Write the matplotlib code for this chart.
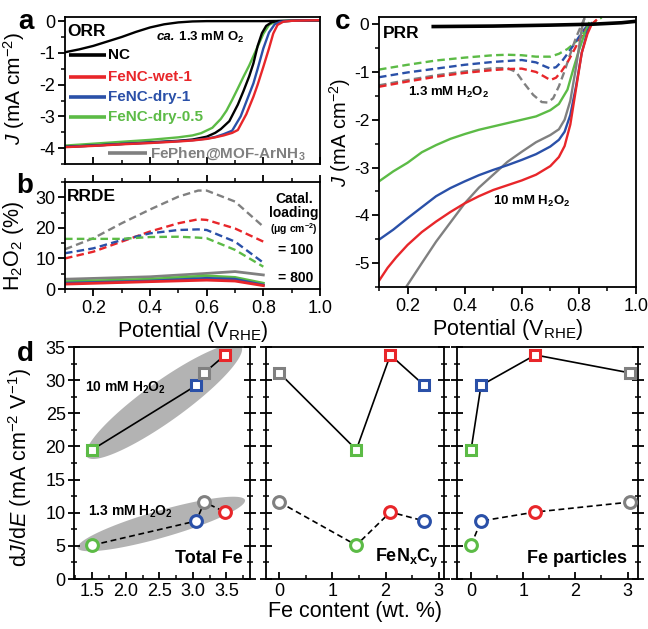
import numpy as np
import matplotlib
matplotlib.use("Agg")
import matplotlib.pyplot as plt
from matplotlib.patches import Polygon
from matplotlib.ticker import MultipleLocator

plt.rcParams['font.family'] = ['Liberation Sans', 'DejaVu Sans']
plt.rcParams['mathtext.fontset'] = 'custom'
plt.rcParams['mathtext.rm'] = 'Liberation Sans'
plt.rcParams['mathtext.it'] = 'Liberation Sans:italic'
plt.rcParams['mathtext.bf'] = 'Liberation Sans:bold'
plt.rcParams['mathtext.default'] = 'regular'
plt.rcParams['axes.unicode_minus'] = False
plt.rcParams['axes.linewidth'] = 1.3

RED = '#e8262a'
BLUE = '#2a50a8'
GREEN = '#5cbb46'
GRAY = '#808080'
BLACK = '#000000'

# ---------------- panel a: ORR ----------------
orr_nc_v = [0.1, 0.15, 0.2, 0.25, 0.3, 0.35, 0.4, 0.45, 0.5, 0.55, 0.6, 0.7, 0.8, 0.9, 1.0]
orr_nc_j = [-0.98, -0.89, -0.78, -0.64, -0.5, -0.34, -0.2, -0.1, -0.04, -0.01, 0.0, 0.0, 0.0, 0.01, 0.02]
orr_fephen_v = [0.1, 0.2, 0.3, 0.4, 0.5, 0.55, 0.6, 0.63, 0.65, 0.68, 0.71, 0.73, 0.75, 0.765, 0.78, 0.795, 0.81, 0.83, 0.85, 0.9, 1.0]
orr_fephen_j = [-3.96, -3.92, -3.87, -3.82, -3.77, -3.73, -3.64, -3.52, -3.40, -3.15, -2.63, -2.2, -1.74, -1.33, -0.78, -0.38, -0.15, -0.03, 0.0, 0.01, 0.03]
orr_wet1_v = [0.1, 0.2, 0.3, 0.4, 0.5, 0.55, 0.6, 0.63, 0.66, 0.69, 0.71, 0.74, 0.765, 0.78, 0.8, 0.82, 0.835, 0.85, 0.87, 0.9, 1.0]
orr_wet1_j = [-3.97, -3.93, -3.88, -3.84, -3.79, -3.76, -3.71, -3.66, -3.6, -3.52, -3.43, -2.93, -2.38, -2.0, -1.44, -0.86, -0.39, -0.12, -0.02, 0.01, 0.03]
orr_dry1_v = [0.1, 0.2, 0.3, 0.4, 0.5, 0.55, 0.6, 0.63, 0.66, 0.69, 0.72, 0.745, 0.765, 0.78, 0.8, 0.82, 0.84, 0.86, 0.88, 0.9, 1.0]
orr_dry1_j = [-3.96, -3.92, -3.87, -3.83, -3.78, -3.75, -3.70, -3.65, -3.56, -3.45, -3.0, -2.42, -1.96, -1.5, -0.86, -0.36, -0.1, -0.02, 0.0, 0.01, 0.03]
orr_dry05_v = [0.1, 0.2, 0.3, 0.4, 0.5, 0.55, 0.58, 0.62, 0.65, 0.67, 0.69, 0.71, 0.73, 0.75, 0.78, 0.8, 0.82, 0.84, 0.86, 0.9, 1.0]
orr_dry05_j = [-3.92, -3.86, -3.80, -3.74, -3.66, -3.60, -3.53, -3.36, -3.08, -2.82, -2.48, -2.12, -1.75, -1.4, -0.8, -0.4, -0.12, -0.03, 0.0, 0.01, 0.03]
legend_names = ['NC', 'FeNC-wet-1', 'FeNC-dry-1', 'FeNC-dry-0.5', 'FePhen@MOF-ArNH$_3$']

# ---------------- panel b: RRDE ----------------
rrde_v = [0.1, 0.2, 0.3, 0.4, 0.5, 0.57, 0.6, 0.7, 0.8]
h2o2_100_fephen = [13.0, 16.6, 21.5, 26.0, 30.2, 32.2, 32.2, 28.6, 20.4]
h2o2_100_wet1 = [10.0, 12.2, 15.5, 18.8, 21.5, 22.8, 22.6, 19.8, 15.5]
h2o2_100_dry1 = [11.7, 13.3, 16.0, 18.2, 19.3, 19.5, 19.3, 15.5, 8.6]
h2o2_100_dry05 = [16.4, 16.4, 16.4, 17.0, 17.1, 16.8, 16.6, 12.8, 7.3]
rrde_v800 = [0.1, 0.4, 0.6, 0.7, 0.8]
h2o2_800_fephen = [3.2, 4.0, 5.1, 5.7, 4.6]
h2o2_800_dry05 = [2.4, 3.2, 4.3, 3.8, 1.9]
h2o2_800_dry1 = [1.9, 2.6, 3.5, 3.2, 1.3]
h2o2_800_wet1 = [1.6, 2.4, 2.9, 2.6, 1.1]

# ---------------- panel c: PRR ----------------
prr_nc_v = [0.29, 0.5, 0.7, 0.85, 0.95, 1.0]
prr_nc_j = [-0.05, -0.04, -0.02, 0.0, 0.03, 0.06]
prr10_fephen_v = [0.195, 0.25, 0.3, 0.35, 0.4, 0.45, 0.5, 0.55, 0.6, 0.65, 0.7, 0.73, 0.75, 0.77, 0.79, 0.8, 0.81, 0.82]
prr10_fephen_j = [-5.5, -5.0, -4.55, -4.15, -3.75, -3.42, -3.15, -2.88, -2.67, -2.47, -2.32, -2.2, -2.0, -1.6, -0.9, -0.5, -0.1, 0.15]
prr10_wet1_v = [0.1, 0.13, 0.16, 0.2, 0.25, 0.3, 0.35, 0.4, 0.45, 0.5, 0.55, 0.6, 0.65, 0.7, 0.73, 0.75, 0.77, 0.79, 0.81, 0.83, 0.845, 0.86]
prr10_wet1_j = [-5.37, -5.1, -4.88, -4.62, -4.35, -4.13, -3.93, -3.75, -3.6, -3.47, -3.37, -3.27, -3.15, -2.97, -2.78, -2.55, -2.1, -1.35, -0.6, -0.2, 0.0, 0.08]
prr10_dry1_v = [0.1, 0.15, 0.2, 0.25, 0.3, 0.35, 0.4, 0.45, 0.5, 0.55, 0.6, 0.65, 0.7, 0.73, 0.75, 0.77, 0.79, 0.81, 0.83, 0.845]
prr10_dry1_j = [-4.51, -4.3, -4.06, -3.83, -3.6, -3.43, -3.29, -3.16, -3.05, -2.95, -2.84, -2.72, -2.56, -2.42, -2.25, -1.9, -1.3, -0.6, -0.15, 0.02]
prr10_dry05_v = [0.1, 0.15, 0.2, 0.25, 0.3, 0.35, 0.4, 0.45, 0.5, 0.55, 0.6, 0.65, 0.7, 0.73, 0.76, 0.78, 0.8, 0.82, 0.835]
prr10_dry05_j = [-3.29, -3.08, -2.9, -2.68, -2.53, -2.4, -2.3, -2.21, -2.14, -2.07, -2.0, -1.93, -1.8, -1.67, -1.37, -0.95, -0.55, -0.2, 0.02]
prr13_fephen_v = [0.1, 0.2, 0.3, 0.4, 0.5, 0.55, 0.58, 0.61, 0.64, 0.67, 0.69, 0.71, 0.73, 0.75, 0.77, 0.79, 0.81, 0.82]
prr13_fephen_j = [-1.28, -1.17, -1.07, -0.99, -0.92, -0.92, -1.0, -1.25, -1.48, -1.63, -1.64, -1.55, -1.3, -0.98, -0.62, -0.28, 0.0, 0.12]
prr13_wet1_v = [0.1, 0.2, 0.3, 0.4, 0.5, 0.55, 0.6, 0.65, 0.68, 0.7, 0.72, 0.74, 0.76, 0.78, 0.8, 0.82, 0.845]
prr13_wet1_j = [-1.31, -1.2, -1.1, -1.02, -0.96, -0.94, -0.93, -1.0, -1.1, -1.17, -1.12, -0.98, -0.8, -0.58, -0.35, -0.14, 0.02]
prr13_dry1_v = [0.1, 0.2, 0.3, 0.4, 0.5, 0.55, 0.6, 0.65, 0.68, 0.7, 0.72, 0.74, 0.76, 0.78, 0.8, 0.82, 0.84]
prr13_dry1_j = [-1.11, -1.01, -0.93, -0.85, -0.79, -0.77, -0.75, -0.8, -0.88, -0.93, -0.9, -0.78, -0.62, -0.45, -0.27, -0.1, 0.03]
prr13_dry05_v = [0.1, 0.2, 0.3, 0.4, 0.5, 0.55, 0.6, 0.65, 0.7, 0.73, 0.76, 0.78, 0.8, 0.82, 0.84, 0.86, 0.88]
prr13_dry05_j = [-0.95, -0.85, -0.76, -0.7, -0.65, -0.64, -0.65, -0.68, -0.68, -0.62, -0.52, -0.42, -0.3, -0.15, -0.03, 0.07, 0.14]

# ---------------- panel d: correlations ----------------
# order: FeNC-dry-0.5 (green), FeNC-dry-1 (blue), FePhen (gray), FeNC-wet-1 (red)
d_colors = [GREEN, BLUE, GRAY, RED]
fe_total = [1.5, 3.05, 3.17, 3.48]
fe_fenxcy = [1.45, 2.73, 0.0, 2.09]
fe_particles = [0.0, 0.19, 3.04, 1.23]
slope_10mM = [19.5, 29.2, 31.1, 33.8]
slope_13mM = [5.1, 8.75, 11.6, 10.1]

W, H = 648, 629
fig = plt.figure(figsize=(W / 100, H / 100), dpi=100)


def box(l, r, t, b):
    return [l / W, 1 - b / H, (r - l) / W, (b - t) / H]


def ftxt(x, y, s, **kw):
    fig.text(x / W, 1 - y / H, s, **kw)


TL = 13
def style(ax, xdir='out', ydir='out'):
    ax.tick_params(axis='x', which='major', direction=xdir, length=5, width=1.3, labelsize=TL, pad=3)
    ax.tick_params(axis='x', which='minor', direction=xdir, length=3, width=1.1)
    ax.tick_params(axis='y', which='major', direction=ydir, length=5, width=1.3, labelsize=TL, pad=2)
    ax.tick_params(axis='y', which='minor', direction=ydir, length=3, width=1.1)


LW = 1.7
# ---- a ----
axa = fig.add_axes(box(65, 320, 17, 164))
axa.plot(orr_nc_v, orr_nc_j, color=BLACK, lw=LW)
axa.plot(orr_dry05_v, orr_dry05_j, color=GREEN, lw=LW)
axa.plot(orr_fephen_v, orr_fephen_j, color=BLACK, lw=LW)
axa.plot(orr_dry1_v, orr_dry1_j, color=BLUE, lw=LW)
axa.plot(orr_wet1_v, orr_wet1_j, color=RED, lw=LW)
axa.set_xlim(0.1, 1.0)
axa.set_ylim(-4.5, 0.13)
axa.xaxis.set_major_locator(MultipleLocator(0.2))
axa.xaxis.set_minor_locator(MultipleLocator(0.1))
axa.yaxis.set_minor_locator(MultipleLocator(0.5))
axa.set_yticks([0, -1, -2, -3, -4])
axa.set_yticklabels(['0', '-1', '-2', '-3', '-4'])
style(axa, xdir='in')
axa.tick_params(axis='x', labelbottom=False)
axa.text(0.108, -0.32, 'ORR', fontsize=12.5, fontweight='bold', va='center')
t1 = axa.text(0.425, -0.5, 'ca.', fontsize=9.5, fontweight='bold', style='italic', va='center')
axa.annotate(' 1.3 mM O$_2$', xy=(1, 0.5), xycoords=t1, va='center', ha='left', fontsize=9.5, fontweight='bold')
leg_cols = [BLACK, RED, BLUE, GREEN]
leg_y = [-1.07, -1.76, -2.39, -3.02]
for name, c, yy in zip(legend_names[:4], leg_cols, leg_y):
    axa.plot([0.115, 0.245], [yy, yy], color=c, lw=2.6, solid_capstyle='butt')
    axa.text(0.252, yy, name, color=c, fontsize=11, fontweight='bold', va='center')
axa.plot([0.252, 0.39], [-4.16, -4.16], color=GRAY, lw=2.6, solid_capstyle='butt')
axa.text(0.40, -4.16, legend_names[4], color=GRAY, fontsize=11, fontweight='bold', va='center')

# ---- b ----
axb = fig.add_axes(box(65, 320, 182, 289))
dsh = (3.2, 1.8)
for ys, c in [(h2o2_100_fephen, GRAY), (h2o2_100_wet1, RED), (h2o2_100_dry1, BLUE), (h2o2_100_dry05, GREEN)]:
    axb.plot(rrde_v, ys, color=c, lw=LW, ls=(0, dsh))
for ys, c in [(h2o2_800_fephen, GRAY), (h2o2_800_dry05, GREEN), (h2o2_800_dry1, BLUE), (h2o2_800_wet1, RED)]:
    axb.plot(rrde_v800, ys, color=c, lw=2.0)
axb.set_xlim(0.1, 1.0)
axb.set_ylim(0, 35)
axb.xaxis.set_major_locator(MultipleLocator(0.2))
axb.xaxis.set_minor_locator(MultipleLocator(0.1))
axb.yaxis.set_major_locator(MultipleLocator(10))
axb.yaxis.set_minor_locator(MultipleLocator(5))
style(axb)
axb.tick_params(axis='x', which='both', top=True)
axb.text(0.108, 30.3, 'RRDE', fontsize=12.5, fontweight='bold', va='center')
axb.text(0.908, 29.3, 'Catal.', fontsize=10, fontweight='bold', ha='center', va='center')
axb.text(0.908, 24.8, 'loading', fontsize=10, fontweight='bold', ha='center', va='center')
axb.text(0.908, 19.6, '(\u03bcg cm$^{-2}$)', fontsize=7.5, fontweight='bold', ha='center', va='center')
axb.text(0.915, 12.7, '= 100', fontsize=10, fontweight='bold', ha='center', va='center')
axb.text(0.915, 3.6, '= 800', fontsize=10, fontweight='bold', ha='center', va='center')
axb.set_xlabel('Potential (V$_{\\mathrm{RHE}}$)', fontsize=15.5, labelpad=1)

# ---- c ----
axc = fig.add_axes(box(379, 636, 17, 287))
for vv, jj, c in [(prr13_dry05_v, prr13_dry05_j, GREEN), (prr13_dry1_v, prr13_dry1_j, BLUE),
                  (prr13_fephen_v, prr13_fephen_j, GRAY), (prr13_wet1_v, prr13_wet1_j, RED)]:
    axc.plot(vv, jj, color=c, lw=LW, ls=(0, dsh))
for vv, jj, c in [(prr10_dry05_v, prr10_dry05_j, GREEN), (prr10_fephen_v, prr10_fephen_j, GRAY),
                  (prr10_dry1_v, prr10_dry1_j, BLUE), (prr10_wet1_v, prr10_wet1_j, RED)]:
    axc.plot(vv, jj, color=c, lw=LW)
axc.plot(prr_nc_v, prr_nc_j, color=BLACK, lw=2.6)
axc.set_xlim(0.1, 1.0)
axc.set_ylim(-5.5, 0.15)
axc.xaxis.set_major_locator(MultipleLocator(0.2))
axc.xaxis.set_minor_locator(MultipleLocator(0.1))
axc.set_yticks([0, -1, -2, -3, -4, -5])
axc.set_yticklabels(['0', '-1', '-2', '-3', '-4', '-5'])
axc.yaxis.set_minor_locator(MultipleLocator(0.5))
style(axc)
axc.tick_params(axis='y', which='major', labelsize=12.5)
axc.text(0.114, -0.19, 'PRR', fontsize=12.5, fontweight='bold', va='center')
axc.text(0.2, -1.42, '1.3 mM H$_2$O$_2$', fontsize=9.5, fontweight='bold', va='center')
axc.text(0.5, -3.72, '10 mM H$_2$O$_2$', fontsize=9.5, fontweight='bold', va='center')
axc.set_xlabel('Potential (V$_{\\mathrm{RHE}}$)', fontsize=15.5, labelpad=1)

ylab = '$\\mathit{J}$ (mA cm$^{-2}$)'
ftxt(14, 88, ylab, fontsize=15, rotation=90, ha='center', va='center')
ftxt(14, 246, 'H$_2$O$_2$ (%)', fontsize=15.5, rotation=90, ha='center', va='center')
ftxt(340, 132, ylab, fontsize=14.5, rotation=90, ha='center', va='center')

# ---- d ----
axd1 = fig.add_axes(box(74, 250, 347, 579))
axd2 = fig.add_axes(box(266, 444, 347, 579))
axd3 = fig.add_axes(box(457, 638, 347, 579))


def ell(ax, cx, cy, a_px, b_px, ang):
    c = ax.transData.transform((cx, cy))
    t = np.linspace(0, 2 * np.pi, 200)
    r = np.deg2rad(ang)
    px = c[0] + a_px * np.cos(t) * np.cos(r) - b_px * np.sin(t) * np.sin(r)
    py = c[1] + a_px * np.cos(t) * np.sin(r) + b_px * np.sin(t) * np.cos(r)
    pts = ax.transData.inverted().transform(np.column_stack([px, py]))
    ax.add_patch(Polygon(pts, closed=True, facecolor='#b3b3b3', edgecolor='none', zorder=0))


for ax, xs, xl in [(axd1, fe_total, (1.23, 3.85)), (axd2, fe_fenxcy, (-0.25, 3.1)), (axd3, fe_particles, (-0.27, 3.2))]:
    ax.set_xlim(*xl)
    ax.set_ylim(0, 35)
    order = np.argsort(xs)
    xo = [xs[i] for i in order]
    ax.plot(xo, [slope_10mM[i] for i in order], color=BLACK, lw=1.2, zorder=2)
    ax.plot(xo, [slope_13mM[i] for i in order], color=BLACK, lw=1.2, ls=(0, (3.5, 2.2)), zorder=2)
    for x, y1, y2, c in zip(xs, slope_10mM, slope_13mM, d_colors):
        ax.plot([x], [y1], marker='s', ms=7.5, mfc='white', mec=c, mew=2.2, zorder=3, clip_on=False)
        ax.plot([x], [y2], marker='o', ms=8.5, mfc='white', mec=c, mew=2.2, zorder=3, clip_on=False)
    ax.yaxis.set_major_locator(MultipleLocator(5))
    ax.yaxis.set_minor_locator(MultipleLocator(2.5))
    style(ax, xdir='in', ydir='inout')
    ax.tick_params(axis='y', which='major', length=8)
    ax.tick_params(axis='y', which='minor', length=5)
    ax.tick_params(axis='y', which='both', right=True)

axd1.xaxis.set_minor_locator(MultipleLocator(0.25))
axd1.set_xticks([1.5, 2.0, 2.5, 3.0, 3.5])
axd1.set_xticklabels(['1.5', '2.0', '2.5', '3.0', '3.5'])
for ax in (axd2, axd3):
    ax.xaxis.set_major_locator(MultipleLocator(1))
    ax.xaxis.set_minor_locator(MultipleLocator(0.5))
    ax.tick_params(axis='y', labelleft=False)

ell(axd1, 2.57, 26.8, 95, 20, 35.6)
ell(axd1, 2.53, 8.3, 87, 13.5, 16)

axd1.text(1.40, 28.9, '10 mM H$_2$O$_2$', fontsize=10, fontweight='bold', va='center')
axd1.text(1.44, 10.2, '1.3 mM H$_2$O$_2$', fontsize=10, fontweight='bold', va='center')
axd1.text(0.96, 0.09, 'Total Fe', transform=axd1.transAxes, fontsize=13, fontweight='bold', ha='right', va='center')
axd2.text(0.97, 0.09, 'FeN$_x$C$_y$', transform=axd2.transAxes, fontsize=13, fontweight='bold', ha='right', va='center')
axd3.text(0.94, 0.09, 'Fe particles', transform=axd3.transAxes, fontsize=13, fontweight='bold', ha='right', va='center')

ftxt(20, 468, 'd$\\mathit{J}$/d$\\mathit{E}$ (mA cm$^{-2}$ V$^{-1}$)', fontsize=15.5, rotation=90, ha='center', va='center')
ftxt(355, 611, 'Fe content (wt. %)', fontsize=15.5, ha='center', va='center')

for s, x, y in [('a', 26, 22), ('b', 25, 186), ('c', 343, 22), ('d', 25, 354)]:
    ftxt(x, y, s, fontsize=20, fontweight='bold', ha='center', va='center')

fig.savefig('out.png', dpi=100)
